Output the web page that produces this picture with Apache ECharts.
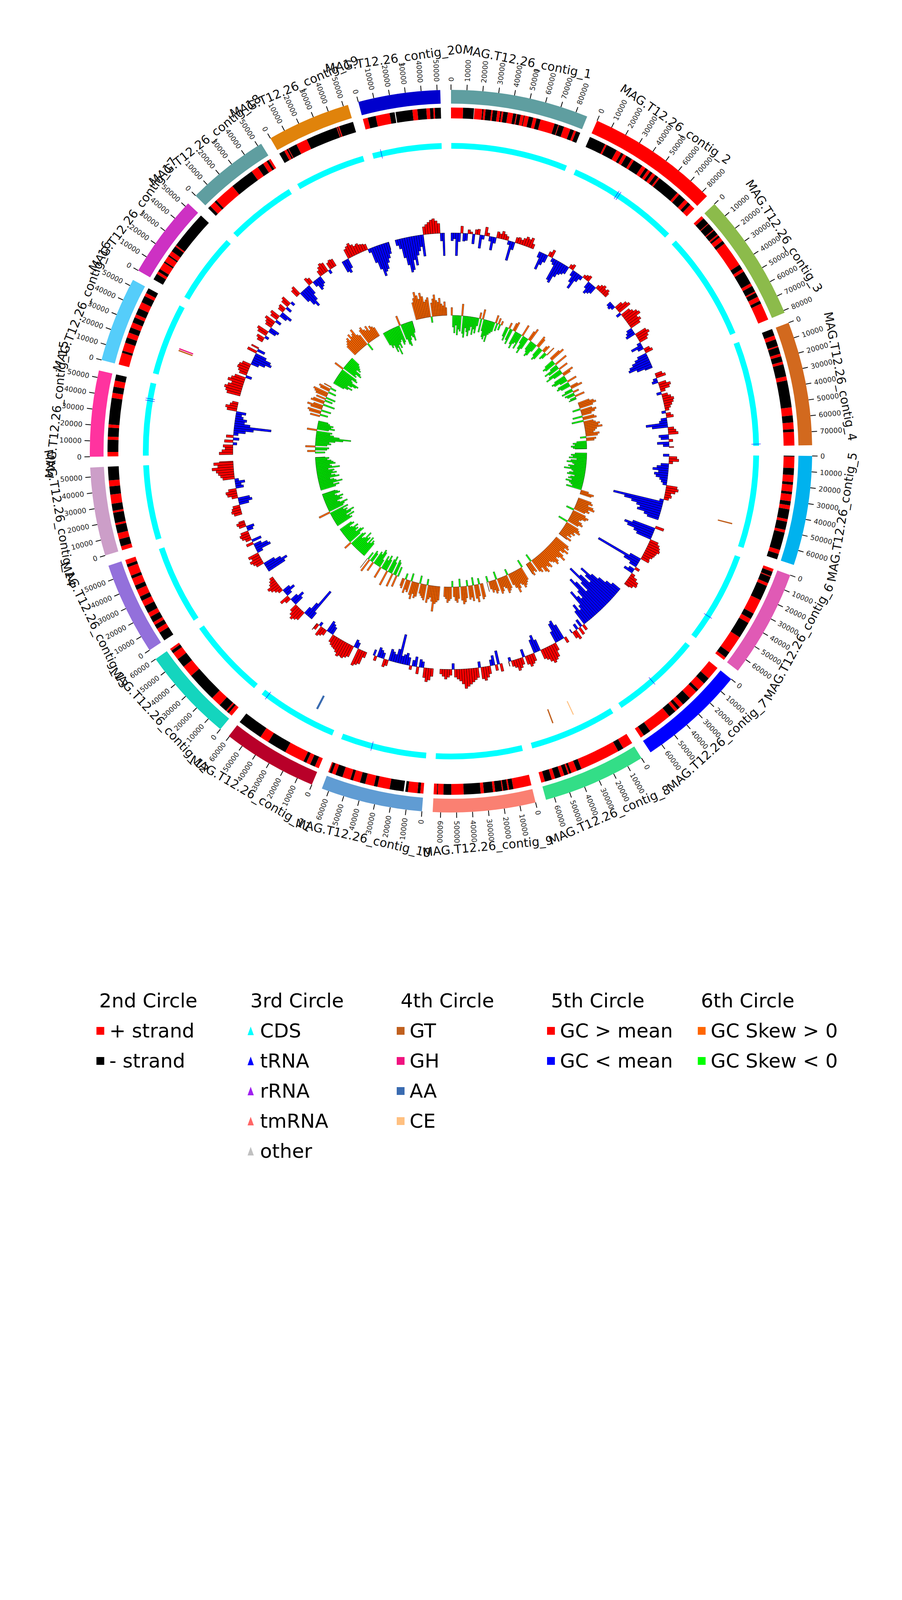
<!DOCTYPE html>
<html>
<head>
<meta charset="utf-8">
<script src="https://cdn.jsdelivr.net/npm/echarts@6/dist/echarts.min.js"></script>
<style>
html,body{margin:0;padding:0;background:#ffffff;}
#chart{width:2310px;height:4620px;}
</style>
</head>
<body>
<div id="chart"></div>
<script>
// ---------------- DATA ----------------
const contigNames = [
  'MAG.T12.26_contig_1','MAG.T12.26_contig_2','MAG.T12.26_contig_3','MAG.T12.26_contig_4',
  'MAG.T12.26_contig_5','MAG.T12.26_contig_6','MAG.T12.26_contig_7','MAG.T12.26_contig_8',
  'MAG.T12.26_contig_9','MAG.T12.26_contig_10','MAG.T12.26_contig_11','MAG.T12.26_contig_12',
  'MAG.T12.26_contig_13','MAG.T12.26_contig_14','MAG.T12.26_contig_15','MAG.T12.26_contig_16',
  'MAG.T12.26_contig_17','MAG.T12.26_contig_18','MAG.T12.26_contig_19','MAG.T12.26_contig_20'
];
// contig lengths (bp)
const contigLengths = [87500, 84000, 81500, 78500, 69500, 68500, 68500, 65500, 65000, 64500,
                       60500, 60000, 59000, 56000, 54500, 54000, 52500, 52500, 53000, 52000];
// space between contigs (kb)
const gapKb = 6.75;
// tick labels (bp)
const tickLabels = ['0','10000','20000','30000','40000','50000','60000','70000','80000'];

// 2nd circle: gene strand runs per contig [startKb, endKb, strand]
const strandRuns = [
  [[0,8,1],[8,15.2,-1],[15.5,20.7,1],[20.7,21.5,-1],[21.5,22.9,1],[22.9,26.7,-1],[26.7,27.7,1],[27.7,30.7,-1],[30.7,32.7,1],[32.7,33.5,-1],[33.5,34.7,1],[34.7,37.7,-1],[37.7,41.3,1],[41.3,43.3,-1],[43.3,44,1],[44,46.3,-1],[46.3,48.5,1],[48.5,49,-1],[49,51.8,1],[51.8,54.8,-1],[54.8,57,1],[57,59.8,-1],[59.8,69.4,1],[69.4,71.9,-1],[71.9,72.4,1],[72.4,75.9,-1],[75.9,80.4,1],[80.4,82.9,-1],[82.9,84.4,1],[84.4,87.3,-1]],
  [[0,11.1,-1],[11.1,12.3,1],[12.3,19.7,-1],[19.7,23.1,1],[23.1,24.9,-1],[24.9,27.1,1],[27.1,31.2,-1],[31.2,32.9,1],[32.9,39.4,-1],[39.4,42,1],[42,44,-1],[44,45.9,1],[45.9,47.7,-1],[47.7,50,1],[50,52.3,-1],[52.3,53.5,1],[53.5,68.6,-1],[68.6,70.3,1],[70.3,75.4,-1],[75.4,78,1],[78,80.2,-1],[80.2,84,1]],
  [[0,2,1],[2,6.5,-1],[6.5,7,1],[7,11.8,-1],[11.8,12.5,1],[12.5,16,-1],[16,17,1],[17,18.4,-1],[18.4,21.4,1],[21.4,23.6,-1],[23.6,40.7,1],[40.7,44,-1],[44,46,1],[46,55,-1],[55,57,1],[57,61,-1],[61,62,1],[62,65,-1],[65,68,1],[68,70,-1],[70,81.5,1]],
  [[0,4.5,-1],[4.5,7.2,1],[7.2,11.7,-1],[11.7,12.6,1],[12.6,17.1,-1],[17.1,18.9,1],[18.9,22.6,-1],[22.6,24.4,1],[24.4,32.5,-1],[32.5,35.2,1],[35.2,53.2,-1],[53.2,58.6,1],[58.6,63.2,-1],[63.2,67.7,1],[67.7,69.5,-1],[69.5,78.5,1]],
  [[0,0.6,-1],[0.6,8.2,1],[8.2,12.8,-1],[12.8,17.4,1],[17.4,19.2,-1],[19.2,23.8,1],[23.8,25.6,-1],[25.6,30.2,1],[30.2,32.9,-1],[32.9,35.6,1],[35.6,42.1,-1],[42.1,43.9,1],[43.9,49.4,-1],[49.4,51.2,1],[51.2,63,-1],[63,65.8,1],[65.8,69.5,-1]],
  [[0,2,1],[2,5,-1],[5,5.6,1],[5.6,10,-1],[10,12,1],[12,22.2,-1],[22.2,32.2,1],[32.2,36.2,-1],[36.2,39.3,1],[39.3,50.3,-1],[50.3,62.4,1],[62.4,66.5,-1],[66.5,68.5,1]],
  [[0,9,1],[9,13.5,-1],[13.5,19,1],[19,21,-1],[21,27,1],[27,33,-1],[33,36,1],[36,38,-1],[38,40,1],[40,45,-1],[45,61,1],[61,66,-1],[66,68.5,1]],
  [[0,6.8,1],[6.8,10.6,-1],[10.6,37.5,1],[37.5,40.7,-1],[40.7,44.6,1],[44.6,46,-1],[46,47,1],[47,49.6,-1],[49.6,52,1],[52,56,-1],[56,58.3,1],[58.3,63,-1],[63,65.5,1]],
  [[0,12.1,1],[12.1,14.9,-1],[14.9,15.9,1],[15.9,18.9,-1],[18.9,19.6,1],[19.6,24.2,-1],[24.2,25.7,1],[25.7,31.7,-1],[31.7,33.9,1],[33.9,45.1,-1],[45.1,53.3,1],[53.3,58.5,-1],[58.5,62.3,1],[62.3,62.8,-1],[62.8,65,1]],
  [[0,2.1,1],[2.1,3.9,-1],[3.9,10.3,1],[10.3,12,-1],[13.1,22.5,-1],[22.5,30.7,1],[30.7,33,-1],[33,39,1],[39,42.5,-1],[42.5,47.3,1],[47.3,49.1,-1],[49.1,54.6,1],[54.6,59.4,-1],[59.4,61.9,1],[61.9,63.7,-1],[63.7,64.5,1]],
  [[0,2.8,1],[2.8,6.2,-1],[6.2,9,1],[9,11,-1],[11,24.5,1],[24.5,37.5,-1],[37.5,43.6,1],[43.6,60.5,-1]],
  [[0,2.5,1],[2.5,4,-1],[4,5,1],[5,10.5,-1],[10.5,17.3,1],[17.3,37.5,-1],[37.5,45.2,1],[45.2,51.5,-1],[51.5,56.4,1],[56.4,58.5,-1],[58.5,60,1]],
  [[0,6,-1],[6,9,1],[9,12,-1],[12,14,1],[14,18,-1],[18,21,1],[21,26,-1],[26,30,1],[30,33,-1],[33,38,1],[38,41,-1],[41,46,1],[46,48,-1],[48,54,1],[54,56,-1],[56,59,1]],
  [[0,2.7,1],[2.7,7.5,-1],[7.5,11.6,1],[11.6,17.1,-1],[17.1,18.5,1],[18.5,25.4,-1],[25.4,26.7,1],[26.7,31.4,-1],[31.4,37.5,1],[37.5,42.9,-1],[42.9,46.9,1],[46.9,56,-1]],
  [[0,3,1],[3,11.1,-1],[11.1,13.1,1],[13.1,19.1,-1],[19.1,21.2,1],[21.2,38.8,-1],[38.8,42.2,1],[42.2,46.3,-1],[46.3,50.4,1],[50.4,54.5,-1]],
  [[0,8,1],[8,9.5,-1],[9.5,15,1],[15,18.6,-1],[18.6,22.1,1],[22.1,25.7,-1],[25.7,29.2,1],[29.2,32.8,-1],[32.8,35,1],[35,39.4,-1],[39.4,43.8,1],[43.8,48.3,-1],[48.3,50.5,1],[50.5,54,-1]],
  [[0,4.2,-1],[4.2,6,1],[6,8,-1],[8,13,1],[13,14,-1],[14,18,1],[18,19,-1],[19,22.1,1],[22.1,26,-1],[26,27,1],[27,52.5,-1]],
  [[0,2,-1],[2,6,1],[6,7.5,-1],[7.5,21.6,1],[21.6,37.6,-1],[37.6,42.5,1],[42.5,46.7,-1],[46.7,49.5,1],[49.5,51,-1],[51,52.5,1]],
  [[0,3.7,-1],[3.7,5.5,1],[5.5,6.5,-1],[6.5,7,1],[7,12.8,-1],[12.8,20.4,1],[20.4,41.5,-1],[41.5,42,1],[42,42.6,-1],[42.6,43.4,1],[43.4,53,-1]],
  [[0,3.3,1],[3.3,8.6,-1],[8.6,18,1],[18,21.4,-1],[22,33.2,-1],[33.2,36.5,1],[36.5,42.4,-1],[42.4,44.8,1],[44.8,47,-1],[47,48,1],[48,52,-1]]
];

// 3rd circle: CDS coverage per contig [contigIndex, startKb, endKb]
const cdsSpans = [
  [0,0.2,87.3],[1,0.2,83.8],[2,0.2,81.3],[3,0.2,78.3],[4,0.2,69.3],[5,0.2,68.3],[6,0.2,68.3],[7,0.2,65.3],
  [8,0.2,64.8],[9,0.2,64.3],[10,0.2,60.3],[11,0.2,59.8],[12,0.2,58.8],[13,0.2,55.8],[14,0.2,54.3],[15,0.2,53.8],
  [16,0.2,52.3],[17,0.2,52.3],[18,0.2,52.8],[19,0.2,51.8]
];
// tRNA positions [contigIndex, kb]
const trnaSites = [[1,35.6],[1,37.2],[3,77.0],[5,49.8],[6,38.3],[9,41.0],[10,56.0],[14,41.0],[14,42.5],[19,6.7]];
const rrnaSites = [];
const tmrnaSites = [];
const otherSites = [];

// 4th circle: CAZy hits [contigIndex, startKb, endKb, class]
const cazySites = [
  [15,21.9,22.9,'GT'],[15,23.3,24.3,'GH'],[4,53.6,54.6,'GT'],[10,18.2,19.8,'AA'],[7,44.1,45.1,'GT'],[7,26.9,27.7,'CE']
];

// 5th circle: GC content minus mean (per mille), 2.5 kb windows
const gcWindowKb = 2.5;
const gcDev = [
  [-20,-15,-58,-22,18,-20,-18,10,5,-25,12,14,-34,-10,22,8,-12,-34,-15,16,12,20,14,10,-10,-50,-20,14,16,12,18,24,20,26,12],
  [-15,-45,-30,-20,12,20,-10,-15,-55,-60,-40,-30,-25,-20,10,14,-15,-30,-45,-20,-10,8,12,15,-18,-30,-25,-20,10,16,20,14,18,12],
  [-12,-15,-10,20,30,35,-12,25,30,38,42,30,35,28,-15,-20,-25,30,35,28,22,-10,-30,-15,15,20,-25,-35,-45,-55,-60,-40,-20],
  [18,25,-10,-15,20,30,25,12,-12,15,22,28,25,20,15,10,-10,12,18,-15,-20,-55,-40,15,20,25,-25,-20,10,-30,-15,12],
  [-15,20,25,10,-20,-30,-40,-25,-35,-30,-20,-15,-10,28,32,25,15,18,12,-10,-130,-100,-80,-65,-55,-60,-40,-30],
  [22,-60,-80,-70,-50,-40,22,28,32,35,30,28,25,20,22,-30,-120,-40,-20,12,-15,-25,10,20,28,30,22,15],
  [-25,-40,-60,-80,-110,-90,-70,-100,-130,-85,-60,-95,-110,-75,-55,-65,-85,-45,-35,-55,-40,15,-20,20,-15,25,18,-10],
  [15,-40,-55,-50,-30,20,35,40,45,38,30,25,-30,-45,-35,20,25,30,22,-20,18,25,30,20,15,-10,12],
  [20,-35,15,-25,-15,20,28,35,30,-15,25,30,35,40,45,50,38,30,25,20,-15,15,20,25,18,12],
  [20,30,35,25,-15,-20,18,-25,-15,10,-20,-30,-25,-20,-75,-35,-20,-25,-30,15,20,-15,-20,-25,12,-15],
  [15,35,40,45,-15,-20,30,35,40,38,42,35,30,28,25,20,-20,-25,-30,15,20,25,-10,15,20],
  [-20,-85,-40,-20,25,30,35,28,20,-25,-35,-20,15,25,-15,-30,-20,12,18,25,30,20,15,10],
  [-50,-60,-45,-30,20,25,30,22,28,-15,-40,-35,-20,18,-25,15,22,25,20,-15,-20,18,22,15],
  [20,25,22,18,-25,-35,-30,15,25,28,20,-20,-15,-25,-10,30,35,40,45,55,40,50,35],
  [35,28,20,25,-10,22,-15,18,-12,-30,-50,-95,-40,-25,-30,-20,-15,-25,25,30,20,15],
  [35,40,45,38,30,42,35,28,-15,20,25,30,28,22,-20,-35,-50,-45,-30,25,-20,20],
  [15,20,-10,25,30,-20,-25,18,22,28,-15,20,25,-20,-30,15,18,-15,20,25,-10],
  [20,25,-30,-45,-55,-40,-25,20,15,-15,-30,-25,-20,15,22,28,25,-10,18,22,20],
  [-30,-35,-25,25,30,35,28,22,25,20,18,15,-10,-40,-60,-80,-70,-65,-50,-40,-30,-20],
  [-15,-25,-50,-70,-90,-85,-60,-75,-50,-40,-30,-55,20,25,30,35,38,32,25,-20,-58]
];

// 6th circle: GC skew (x1000), 2.5 kb windows
const gcSkew = [
  [20,-30,-45,-25,-50,-35,-40,30,-45,-55,-30,-40,-50,-35,-25,-45,-30,-40,-20,15,-35,25,-30,-45,-50,-40,-55,-35,-30,-25,20,-20,15,-15,10],
  [-25,-35,15,-30,-40,20,25,-35,-45,-30,-25,-40,30,-20,-35,-45,-30,25,35,-25,-30,-40,-35,-20,30,25,-25,-35,-30,15,20,-20,-15,25],
  [30,40,-25,-35,-30,35,-20,-40,-30,25,-35,-45,-25,30,20,-30,-40,-35,-20,25,-30,-35,-25,20,30,-20,-30,15,-25,-20,25,-15,-20],
  [30,40,45,35,-20,30,40,35,25,-25,30,35,-30,25,30,40,35,45,30,25,20,35,30,-15,25,20,-25,-35,-30,-40,-35,-30],
  [-30,-40,-35,-45,-25,-40,-50,-35,-30,-45,-40,-55,-35,-30,-40,-45,-25,-35,-40,-30,-45,-35,-30,-25,-40,20,35,30],
  [35,40,30,45,50,35,40,30,-20,35,45,40,30,25,35,40,30,-25,35,40,45,30,35,25,30,20,35,25],
  [40,45,35,50,40,30,45,55,40,35,45,50,40,35,30,45,40,35,50,45,30,40,35,-20,30,25,35,30],
  [-20,35,40,45,50,40,35,45,55,40,30,-15,35,40,45,30,25,35,40,-20,30,35,25,30,20,-15,25],
  [35,40,-15,30,45,35,-20,40,30,35,-15,30,40,45,35,-20,30,40,35,25,-15,30,35,40,30,25],
  [35,40,45,65,40,30,35,45,-15,40,35,30,25,-20,35,40,30,45,35,-20,30,25,35,-15,25,20],
  [-25,30,-35,-40,35,-30,-45,-35,40,-30,-40,-25,-35,30,-20,-40,-45,-30,-35,25,-25,-30,35,-20,30],
  [-40,-45,-35,-50,-30,-45,-40,-55,-35,-30,-45,-40,20,-35,-50,-45,-30,-40,-35,-45,-30,-25,-40,-35],
  [-45,-40,-55,-35,-50,-60,-40,-45,-35,-50,30,-40,-45,-55,-35,-30,-45,-40,-50,-35,-30,-45,-40,-35],
  [-40,-50,-35,-60,-45,-40,-30,-55,-45,-35,-50,-40,-45,-30,-60,-40,-35,-50,-45,-40,-30,-35,-25],
  [-25,20,-30,-35,25,-30,-40,-35,-50,-70,-90,-60,-45,-35,-40,25,-30,-45,-35,-40,-30,-25],
  [25,-20,30,35,-25,30,40,25,-30,35,30,-20,25,-25,30,35,40,-20,25,30,-15,20],
  [-30,-40,-50,-35,-45,-55,-60,-40,-35,-50,-45,25,-40,-35,-50,-45,-30,-40,-35,-30,-25],
  [30,35,40,45,35,50,40,45,55,35,30,-20,40,45,35,30,40,25,35,30,25],
  [-35,-45,-40,-60,-50,-70,-45,-55,-40,-35,-50,-45,25,-40,-55,-60,-45,-35,-40,-50,-30,-25],
  [45,55,70,60,50,65,55,40,45,50,-15,35,45,55,40,35,45,30,25,35,20]
];

// ---------------- STYLE ----------------
const contigColors = ['#5f9ea0','#ff0000','#8cbb4b','#d2691e','#00b2ee','#e05ab5','#0000ff','#33de87','#fa8072','#609cd3',
                      '#b80029','#14d5be','#9370db','#cc9ec8','#ff339f','#55cdfa','#cd31c3','#5f9ea0','#e0830b','#0000cd'];
const FONT = 'DejaVu Sans';
const R = {contig:[96.2,100], strand:[92.1,95.1], cds:[83.7,85.3], trna:[83.2,85.8], cazy:[76.3,80.4],
           gcBase:60.4, skewBase:37.6, tick:[100,101.5], tickLabel:102.3, label:109.8};
const PX_PER_UNIT = 9.25;           // radius units -> px
const GC_PX = 1.0;                  // px per unit of gcDev
const SKEW_PX = 1.0;                // px per unit of gcSkew

// ---------------- LAYOUT (derived from data) ----------------
const offsets = [];
let acc = 0;
contigLengths.forEach(len => { offsets.push(acc); acc += len / 1000 + gapKb; });
const TOTAL = acc;

function sectorSeries(name, items, color, stroke, lw) {
  return {
    type: 'custom', name: name, coordinateSystem: 'polar', silent: true, animation: false,
    itemStyle: {color: typeof color === 'function' ? '#000' : color},
    encode: {angle: [0, 1], radius: [2, 3]},
    data: items,
    renderItem: function (params, api) {
      const a0 = api.value(0), a1 = api.value(1), r0 = api.value(2), r1 = api.value(3);
      const p0 = api.coord([r0, a0]);
      const p1 = api.coord([r1, a1]);
      const fill = typeof color === 'function' ? color(params.dataIndex) : color;
      return {
        type: 'sector',
        shape: {cx: params.coordSys.cx, cy: params.coordSys.cy, r0: p0[2], r: p1[2],
                startAngle: -p0[3], endAngle: -p1[3], clockwise: true},
        style: {fill: fill, stroke: stroke || null, lineWidth: lw || 0}
      };
    }
  };
}

// outer contig ring
const contigItems = contigLengths.map((len, i) => [offsets[i], offsets[i] + len / 1000, R.contig[0], R.contig[1]]);

// strand ring
const plusItems = [], minusItems = [];
strandRuns.forEach((runs, i) => runs.forEach(r => {
  const it = [offsets[i] + r[0], offsets[i] + r[1], R.strand[0], R.strand[1]];
  (r[2] > 0 ? plusItems : minusItems).push(it);
}));

// CDS / RNA ring
const cdsItems = cdsSpans.map(s => [offsets[s[0]] + s[1], offsets[s[0]] + s[2], R.cds[0], R.cds[1]]);
const siteItems = arr => arr.map(s => [offsets[s[0]] + s[1] - 0.15, offsets[s[0]] + s[1] + 0.15, R.trna[0], R.trna[1]]);

// CAZy ring
const cazyItems = cls => cazySites.filter(s => s[3] === cls)
  .map(s => [offsets[s[0]] + s[1], offsets[s[0]] + s[2], R.cazy[0], R.cazy[1]]);

// GC content and GC skew bars
function barItems(values, base, pxPer, positive) {
  const out = [];
  values.forEach((arr, i) => {
    const lenKb = contigLengths[i] / 1000;
    arr.forEach((v, j) => {
      const s = j * gcWindowKb;
      if (s >= lenKb) return;
      const e = Math.min((j + 1) * gcWindowKb, lenKb);
      const r = base + v * pxPer / PX_PER_UNIT;
      if (positive && v >= 0) out.push([offsets[i] + s, offsets[i] + e, base, r]);
      if (!positive && v < 0) out.push([offsets[i] + s, offsets[i] + e, r, base]);
    });
  });
  return out;
}

// ticks
const tickItems = [], tickText = [];
contigLengths.forEach((len, i) => {
  tickLabels.forEach(t => {
    const bp = Number(t);
    if (bp <= len) { tickItems.push([offsets[i] + bp / 1000]); tickText.push(t); }
  });
});
const labelItems = contigLengths.map((len, i) => [offsets[i] + len / 2000]);

function thetaOf(p) { // clockwise degrees from 12 o'clock
  let th = 90 - p[3] * 180 / Math.PI;
  return ((th % 360) + 360) % 360;
}

const tickLineSeries = {
  type: 'custom', name: 'ticks', coordinateSystem: 'polar', silent: true, animation: false,
  encode: {angle: 0}, data: tickItems,
  renderItem: function (params, api) {
    const a = api.value(0);
    const p0 = api.coord([R.tick[0], a]), p1 = api.coord([R.tick[1], a]);
    return {type: 'line', shape: {x1: p0[0], y1: p0[1], x2: p1[0], y2: p1[1]},
            style: {stroke: '#000', lineWidth: 2}};
  }
};
const tickLabelSeries = {
  type: 'custom', name: 'tickLabels', coordinateSystem: 'polar', silent: true, animation: false,
  encode: {angle: 0}, data: tickItems,
  renderItem: function (params, api) {
    const a = api.value(0);
    const p = api.coord([R.tickLabel, a]);
    const th = thetaOf(p);
    const out = th < 184;
    const rot = (out ? 90 - th : 270 - th) * Math.PI / 180;
    return {type: 'text', x: p[0], y: p[1], rotation: rot,
            style: {text: tickText[params.dataIndex], fontSize: 18, fontFamily: FONT, fill: '#222',
                    align: out ? 'left' : 'right', verticalAlign: 'middle'}};
  }
};
const contigLabelSeries = {
  type: 'custom', name: 'contigLabels', coordinateSystem: 'polar', silent: true, animation: false,
  encode: {angle: 0}, data: labelItems,
  renderItem: function (params, api) {
    const a = api.value(0);
    const p = api.coord([R.label, a]);
    const th = thetaOf(p);
    const top = (th < 90 || th >= 270);
    const rot = (top ? -th : 180 - th) * Math.PI / 180;
    return {type: 'text', x: p[0], y: p[1], rotation: rot,
            style: {text: contigNames[params.dataIndex], fontSize: 31, fontFamily: FONT, fill: '#111',
                    align: 'center', verticalAlign: 'middle'}};
  }
};

const C = {plus:'#ff0000', minus:'#000000', cds:'#00ffff', trna:'#0000ff', rrna:'#a020f0', tmrna:'#ff6666', other:'#c0c0c0',
           GT:'#c0601e', GH:'#f0127f', AA:'#3a6bb0', CE:'#ffc080',
           gcHi:'#ff0000', gcLo:'#0000ff', skHi:'#ff6600', skLo:'#00ff00'};

const series = [
  sectorSeries('contigs', contigItems, i => contigColors[i]),
  sectorSeries('+ strand', plusItems, C.plus),
  sectorSeries('- strand', minusItems, C.minus),
  sectorSeries('CDS', cdsItems, C.cds),
  sectorSeries('tRNA', siteItems(trnaSites), C.trna),
  sectorSeries('rRNA', siteItems(rrnaSites), C.rrna),
  sectorSeries('tmRNA', siteItems(tmrnaSites), C.tmrna),
  sectorSeries('other', siteItems(otherSites), C.other),
  sectorSeries('GT', cazyItems('GT'), C.GT),
  sectorSeries('GH', cazyItems('GH'), C.GH),
  sectorSeries('AA', cazyItems('AA'), C.AA),
  sectorSeries('CE', cazyItems('CE'), C.CE),
  sectorSeries('GC > mean', barItems(gcDev, R.gcBase, GC_PX, true), C.gcHi, '#000', 0.8),
  sectorSeries('GC < mean', barItems(gcDev, R.gcBase, GC_PX, false), C.gcLo, '#000', 0.8),
  sectorSeries('GC Skew > 0', barItems(gcSkew, R.skewBase, SKEW_PX, true), C.skHi, '#000', 0.6),
  sectorSeries('GC Skew < 0', barItems(gcSkew, R.skewBase, SKEW_PX, false), C.skLo, '#000', 0.6),
  tickLineSeries, tickLabelSeries, contigLabelSeries
];

function legendCol(left, items, w, h, pad) {
  return {orient: 'vertical', left: left, top: 2614, padding: 0, itemWidth: w, itemHeight: h, itemGap: 27,
          selectedMode: false,
          textStyle: {fontSize: 50, fontFamily: FONT, color: '#000', padding: [0, 0, 0, pad]},
          data: items.map(it => ({name: it[0], icon: it[1], itemStyle: {color: it[2], borderWidth: 0}}))};
}
const titleStyle = {fontSize: 50, fontWeight: 'normal', fontFamily: FONT, color: '#000'};

const option = {
  backgroundColor: '#ffffff',
  animation: false,
  polar: {center: [1155, 1155], radius: [0, 1110]},
  angleAxis: {type: 'value', min: 0, max: TOTAL, startAngle: 90, clockwise: true, show: false,
              axisLine: {show: false}, axisTick: {show: false}, axisLabel: {show: false}, splitLine: {show: false}},
  radiusAxis: {type: 'value', min: 0, max: 120, show: false,
               axisLine: {show: false}, axisTick: {show: false}, axisLabel: {show: false}, splitLine: {show: false}},
  title: [
    {text: '2nd Circle', left: 254, top: 2537, padding: 0, textStyle: titleStyle},
    {text: '3rd Circle', left: 641, top: 2537, padding: 0, textStyle: titleStyle},
    {text: '4th Circle', left: 1026, top: 2537, padding: 0, textStyle: titleStyle},
    {text: '5th Circle', left: 1411, top: 2537, padding: 0, textStyle: titleStyle},
    {text: '6th Circle', left: 1795, top: 2537, padding: 0, textStyle: titleStyle}
  ],
  legend: [
    legendCol(247, [['+ strand','rect',C.plus],['- strand','rect',C.minus]], 20, 20, 8),
    legendCol(634, [['CDS','triangle',C.cds],['tRNA','triangle',C.trna],['rRNA','triangle',C.rrna],['tmRNA','triangle',C.tmrna],['other','triangle',C.other]], 16, 22, 11),
    legendCol(1016, [['GT','rect',C.GT],['GH','rect',C.GH],['AA','rect',C.AA],['CE','rect',C.CE]], 20, 20, 8),
    legendCol(1401, [['GC > mean','rect',C.gcHi],['GC < mean','rect',C.gcLo]], 20, 20, 8),
    legendCol(1787, [['GC Skew > 0','rect',C.skHi],['GC Skew < 0','rect',C.skLo]], 20, 20, 8)
  ],
  series: series
};

const chart = echarts.init(document.getElementById('chart'), null, {renderer: 'svg', width: 2310, height: 4620});
chart.setOption(option);
</script>
</body>
</html>
